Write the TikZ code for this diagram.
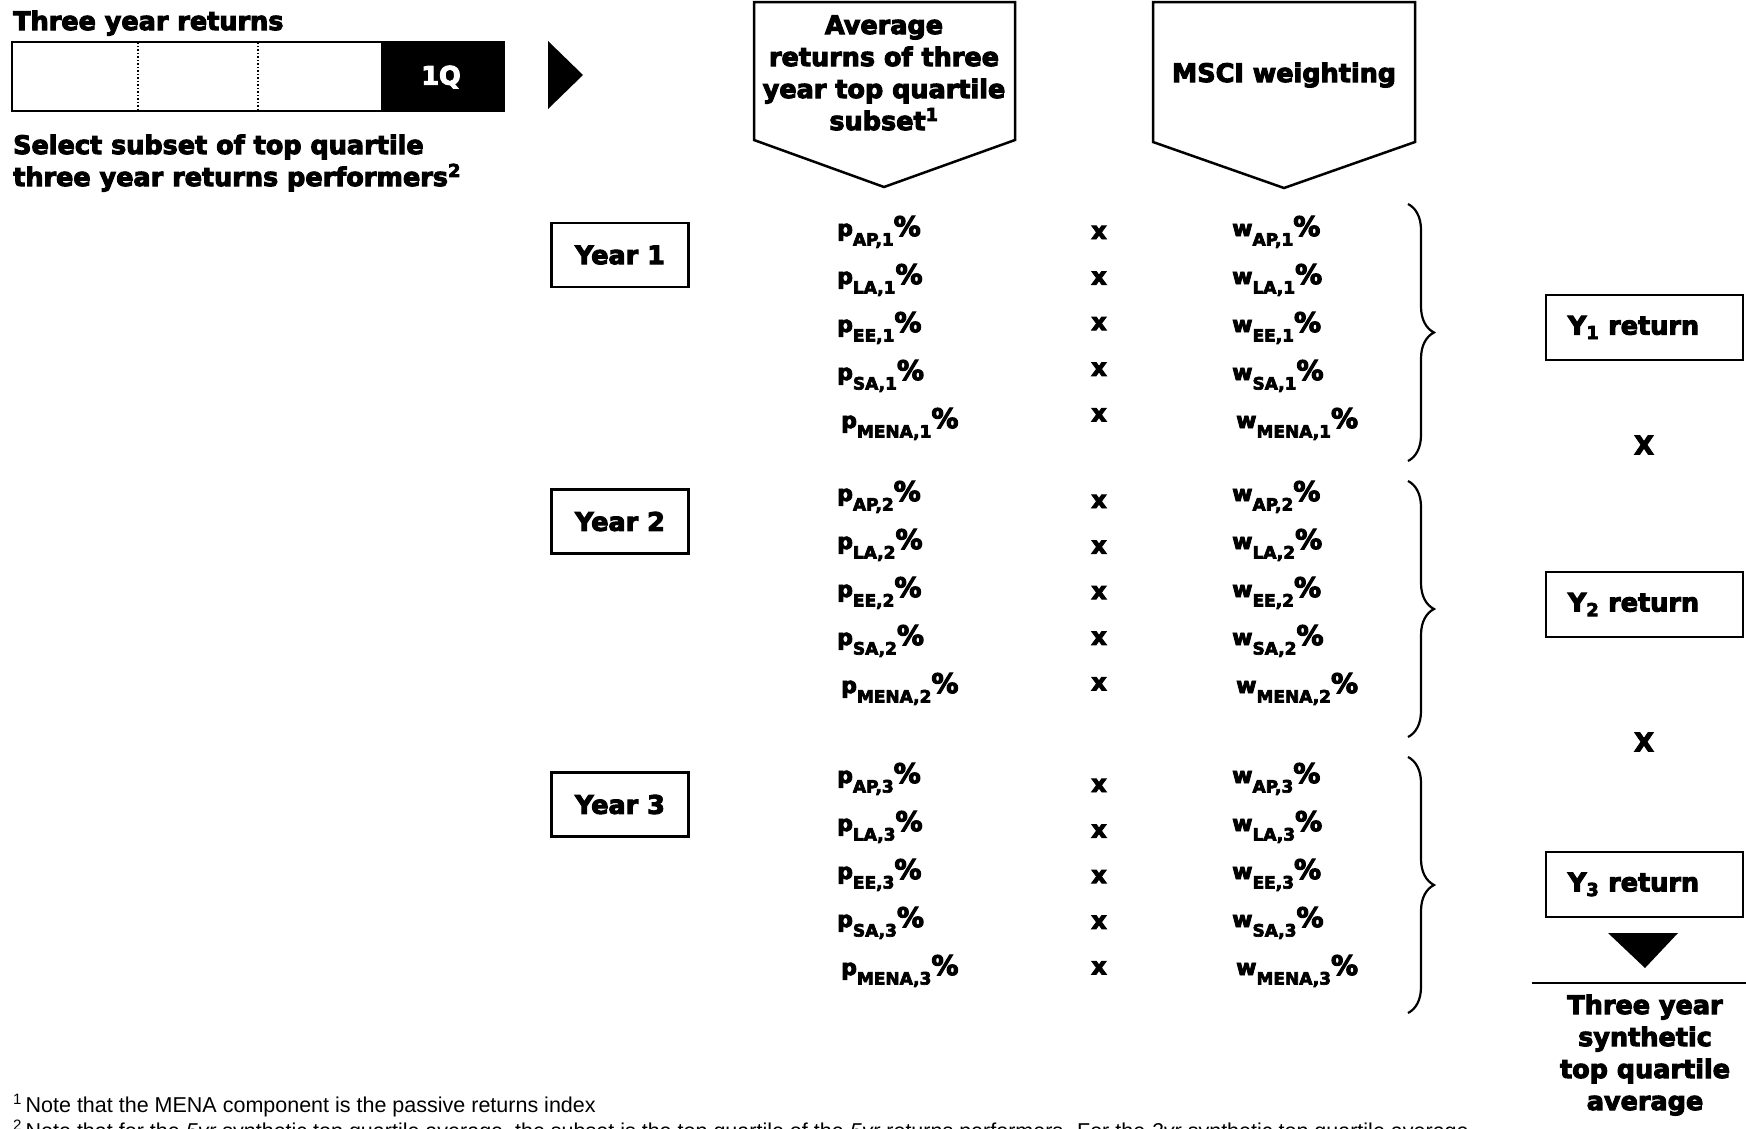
\documentclass[tikz,border=0pt]{standalone}
\usepackage{fontspec}
\setmainfont{DejaVu Sans}[BoldFeatures={FakeBold=4}]
\newfontfamily\notefont{Liberation Sans}
\usetikzlibrary{decorations.pathreplacing}
\newcommand{\heavy}{\fontsize{25.5}{32}\selectfont\bfseries}
\newcommand{\rate}[3]{{\fontsize{22}{22}\selectfont #1}\raisebox{-9.5pt}{\fontsize{17}{17}\selectfont #2,#3}{\fontsize{27}{27}\selectfont\%}}

\begin{document}
\begin{tikzpicture}[x=1pt, y=-1pt,
	every node/.style={inner sep=0pt},
	boxline/.style={draw, line width=2.5pt},
	heading/.style={font=\heavy},
	yearbox/.style={boxline, minimum width=137pt, minimum height=64pt, font=\heavy},
	retbox/.style={boxline, minimum width=197pt, minimum height=65pt, font=\heavy},
	rowtext/.style={anchor=base west, font=\bfseries},
	timesmark/.style={anchor=base, font=\bfseries\fontsize{24}{24}\selectfont},
	curly/.style={decorate, decoration={brace, amplitude=26pt}, line width=2.2pt},
	note/.style={anchor=base west, font=\notefont\fontsize{21.5}{24}\selectfont}]
	\useasboundingbox (0,0) rectangle (1746,1128);

	\node[heading, anchor=base west] (title) at (13,30) {Three year returns};
	\draw[boxline] (12,42) rectangle (504,111);
	\fill (381,42) rectangle (504,111);
	\draw[dotted, line width=1.5pt] (138,42) -- (138,111);
	\draw[dotted, line width=1.5pt] (258,42) -- (258,111);
	\node[heading, text=white] (q1) at (441,77) {1Q};
	\node[heading, anchor=base west, align=left] (select) at (13,186) {Select subset of top quartile\\three year returns performers\textsuperscript{2}};
	\fill (548,41) -- (583,75) -- (548,109) -- cycle;

	\draw[boxline] (754,2) -- (1015,2) -- (1015,140) -- (884,187) -- (754,140) -- cycle;
	\node[heading, anchor=base, align=center] (avg) at (884,130) {Average\\returns of three\\year top quartile\\subset\textsuperscript{1}};
	\draw[boxline] (1153,2) -- (1415,2) -- (1415,142) -- (1284,188) -- (1153,142) -- cycle;
	\node[heading, anchor=base] (msci) at (1284,82) {MSCI weighting};

	\foreach \n/\yb/\pb/\xb/\bt/\bb/\rb in {1/255/236/239/204/461/327.5, 2/521.5/501/508/481/737/604.5, 3/804.5/783/792/757/1013/884.5}{
		\node[yearbox] (year\n) at (620,\yb) {Year \n};
		\foreach \r/\dx [count=\i from 0] in {AP/0, LA/0, EE/0, SA/0, MENA/4}{
			\node[rowtext] (p\n\r) at (837+\dx, \pb+48*\i) {\rate{p}{\r}{\n}};
			\node[timesmark] (x\n\r) at (1099, \xb+45.6*\i) {x};
			\node[rowtext] (w\n\r) at (1232+\dx, \pb+48*\i) {\rate{w}{\r}{\n}};
		}
		\coordinate (top\n) at (1408,\bt);
		\coordinate (bot\n) at (1408,\bb);
		\draw[curly] (top\n) -- (bot\n);
		\node[retbox] (ret\n) at (1644.5,\rb) {Y\textsubscript{\n} return\hspace*{22pt}};
	}

	\node[heading] (times1) at (1644,445) {X};
	\node[heading] (times2) at (1644,742) {X};
	\fill (1608,933) -- (1678,933) -- (1645,968) -- cycle;
	\coordinate (rule l) at (1532,983);
	\coordinate (rule r) at (1746,983);
	\draw[line width=2.5pt] (rule l) -- (rule r);
	\node[heading, anchor=base, align=center] (synth) at (1645,1110) {Three year\\synthetic\\top quartile\\average};

	\node[note] (note1) at (13,1112) {\textsuperscript{1}\,Note that the MENA component is the passive returns index};
	\node[note] (note2) at (13,1138) {\textsuperscript{2}\,Note that for the \textit{5yr} synthetic top quartile average, the subset is the top quartile of the \textit{5yr} returns performers. For the \textit{2yr} synthetic top quartile average};
\end{tikzpicture}
\end{document}
